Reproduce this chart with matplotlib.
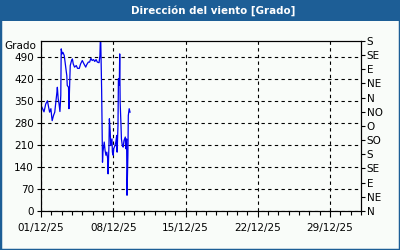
import matplotlib
matplotlib.use("Agg")
import matplotlib.pyplot as plt
import matplotlib.dates as mdates
from matplotlib.patches import Rectangle
import datetime as dt

title = "Dirección del viento [Grado]"
start = dt.datetime(2025, 12, 1)
hours = [2, 7, 11, 15, 17, 20, 23, 25, 26, 29, 32, 34, 37, 38, 40, 42, 44, 46, 47, 49,
         51, 54, 56, 58, 60, 61, 64, 65, 67, 68, 71, 73, 75, 78, 82, 85, 89, 92, 96, 100,
         104, 106, 110, 113, 116, 119, 122, 125, 128, 131, 135, 137, 138, 139, 141, 142, 143, 144, 147, 149,
         151, 153, 155, 156, 158, 159, 161, 162, 165, 166, 168, 169, 172, 174, 176, 177, 179, 180, 182, 183,
         184, 186, 187, 189, 191, 193, 196, 197, 199, 200, 202, 203, 205, 207]
values = [330, 315, 340, 350, 335, 314, 325, 298, 287, 303, 314, 340, 377, 393, 356, 340, 316, 367, 515, 499,
          504, 494, 473, 451, 430, 399, 393, 325, 420, 462, 478, 483, 467, 457, 462, 453, 453, 467, 478, 467,
          457, 464, 473, 473, 485, 478, 481, 475, 481, 473, 471, 494, 545, 535, 383, 272, 155, 187, 219, 192,
          177, 187, 166, 118, 208, 293, 251, 208, 229, 187, 177, 198, 208, 219, 240, 187, 272, 420, 399, 499,
          346, 272, 229, 208, 203, 224, 235, 198, 229, 50, 177, 303, 325, 314]
left_ticks = [0, 70, 140, 210, 280, 350, 420, 490]
right_ticks = [0, 45, 90, 135, 180, 225, 270, 315, 360, 405, 450, 495, 540]
right_labels = ["N", "NE", "E", "SE", "S", "SO", "O", "NO", "N", "NE", "E", "SE", "S"]
x_tick_dates = ["2025-12-01", "2025-12-08", "2025-12-15", "2025-12-22", "2025-12-29"]

times = [start + dt.timedelta(hours=h) for h in hours]

blue = "#1d5e96"
bg = "#f9fcf9"
fs = 7.5
plt.rcParams['font.family'] = ['DejaVu Sans']

fig = plt.figure(figsize=(4, 2.5), dpi=100)
fig.patch.set_facecolor(bg)
fig.patches.append(Rectangle((0, 0), 1, 1, transform=fig.transFigure, fill=False,
                             edgecolor=blue, linewidth=2.5, zorder=-1))
fig.patches.append(Rectangle((0, 1 - 21 / 250), 1, 21 / 250, transform=fig.transFigure,
                             facecolor=blue, edgecolor='none', zorder=0))
fig.text(213 / 400, 1 - 10.5 / 250, title, color='white', fontsize=7.4, fontweight='bold',
         ha='center', va='center')

ax = fig.add_axes([41 / 400, (250 - 211) / 250, 320 / 400, 170 / 250])
ax.set_facecolor(bg)
ax.plot(times, values, color='#0000ee', linewidth=0.9, zorder=3)

ax.set_ylim(0, 540)
ax.set_xlim(dt.datetime(2025, 12, 1), dt.datetime(2026, 1, 1))
ax.set_yticks(left_ticks)
ax.set_yticklabels([str(v) for v in left_ticks], fontsize=fs)
ax.set_xticks([mdates.date2num(dt.datetime.strptime(d, "%Y-%m-%d")) for d in x_tick_dates])
ax.xaxis.set_major_formatter(mdates.DateFormatter("%d/%m/%y"))
ax.xaxis.set_minor_locator(mdates.DayLocator())
ax.tick_params(axis='x', labelsize=fs, length=4, width=0.8, pad=5)
ax.tick_params(axis='x', which='minor', length=3, width=0.8)
ax.tick_params(axis='y', length=3, width=0.8, pad=2)
ax.grid(True, which='major', color='black', linestyle=(0, (3, 3)), linewidth=0.8)

for s in ax.spines.values():
    s.set_linewidth(0.8)

ax.text(-0.015, 0.97, "Grado", transform=ax.transAxes, ha='right', va='center', fontsize=fs)

ax2 = ax.twinx()
ax2.set_ylim(0, 540)
ax2.set_yticks(right_ticks)
ax2.set_yticklabels(right_labels, fontsize=fs)
ax2.tick_params(axis='y', length=3, width=0.8, pad=1)

fig.savefig("out.png", dpi=100, facecolor=bg)
